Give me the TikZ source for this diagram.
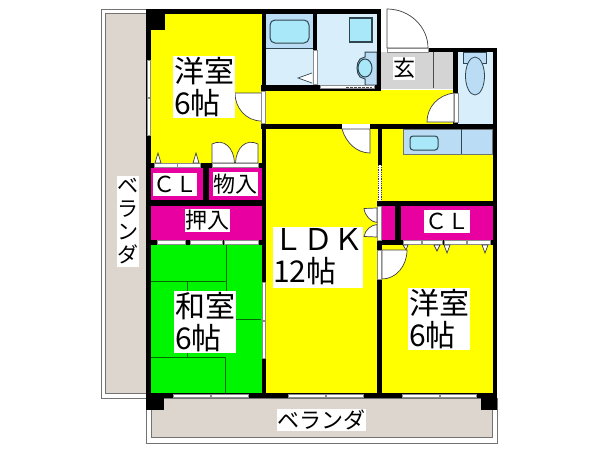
\documentclass[tikz,border=0pt]{standalone}
\usepackage{fontspec}
\usepackage{xcolor}
\setmainfont{Noto Sans CJK JP}
\usetikzlibrary{positioning}
\definecolor{roomyellow}{HTML}{FFFF00}
\definecolor{closetpink}{HTML}{E800A0}
\definecolor{tatamigreen}{HTML}{00F500}
\definecolor{tatamiline}{HTML}{006A00}
\definecolor{balconybeige}{HTML}{DDD6CE}
\definecolor{entrygray}{HTML}{D4D4D4}
\definecolor{waterpale}{HTML}{D9EEFB}
\definecolor{watermid}{HTML}{BBDCF5}
\definecolor{watercyan}{HTML}{A8E8F8}
\definecolor{fixtureline}{HTML}{2F4650}
\tikzset{
    wall/.style={fill=black,draw=none},
    fixture/.style={draw=fixtureline,line width=1pt},
    doorleaf/.style={fill=white,draw=black!75,line width=0.7pt},
    sash/.style={fill=white,draw=black!45,line width=0.5pt},
    roomlabel/.style={fill=white,inner sep=0pt,align=left,font=\fontsize{30}{32}\selectfont,text=black},
    smalllabel/.style={fill=white,inner sep=0pt,font=\fontsize{22}{24}\selectfont,text=black}
}
\begin{document}
\begin{tikzpicture}[x=1pt,y=-1pt]
    \useasboundingbox (0,0) rectangle (600,450);
    \fill[white] (0,0) rectangle (600,450);

    % Balconies
    \draw[black!55,line width=0.8pt] (101,9) rectangle (146,398);
    \draw[black!55,fill=balconybeige,line width=0.8pt] (105.5,13) rectangle (146,393.5);
    \draw[black!55,line width=0.8pt] (146,398) -- (146,443) -- (497,443) -- (497,398);
    \draw[black!55,fill=balconybeige,line width=0.8pt] (151,398) -- (151,437.5) -- (492,437.5) -- (492,398) -- cycle;

    % Rooms
    \fill[roomyellow] (151,14) rectangle (262,165);
    \fill[roomyellow] (266,90) rectangle (454,124);
    \fill[roomyellow] (266,128) rectangle (378,394);
    \fill[roomyellow] (381,128) rectangle (493,202);
    \fill[roomyellow] (381,244) rectangle (493,394);
    \fill[closetpink] (151,167) rectangle (262,240);
    \fill[closetpink] (382,205) rectangle (493,241);
    \fill[tatamigreen] (151,244) rectangle (262,394);
    \fill[waterpale] (266,14) rectangle (378,86);
    \fill[watermid] (266,14) rectangle (313,48);
    \fill[entrygray] (381,50) rectangle (454,89);
    \fill[waterpale] (458,50) rectangle (493,124);

    % Tatami joints
    \draw[tatamiline,line width=0.7pt] (226,245) -- (226,319) -- (261,319);
    \draw[tatamiline,line width=0.7pt] (151,281) -- (226,281);
    \draw[tatamiline,line width=0.7pt] (187,281) -- (187,357);
    \draw[tatamiline,line width=0.7pt] (151,357) -- (225,357) -- (225,393);

    % Bath and washroom
    \draw[fixture,fill=watercyan,rounded corners=5pt] (270,20) rectangle (309,43);
    \draw[fixture,line width=0.6pt] (266,48) -- (313,48);
    \draw[fixture,fill=watercyan,line width=1.2pt] (349.5,18) rectangle (372,42);
    \draw[fixture,fill=watermid] (377,52) -- (365,52) -- (365,57) -- (360,59) .. controls (356,63) and (356,73) .. (360,77) -- (365,79) -- (365,85) -- (377,85) -- cycle;
    \draw[fixture,fill=watercyan] (365,68) ellipse (7 and 9);

    % Toilet
    \draw[fixture,fill=watermid,line width=0.6pt] (463,52) rectangle (486,63);
    \draw[fixture,fill=watermid,line width=0.8pt] (475,76) ellipse (9.5 and 19);

    % Entry step
    \draw[black!70,line width=0.6pt] (433,52) -- (433,88);

    % Kitchen counter
    \draw[black!55,fill=watermid,line width=0.6pt] (403,129) rectangle (492,154);
    \draw[fixture,fill=watercyan,rounded corners=3pt] (410,136) rectangle (438,150);
    \draw[fixture,line width=0.6pt] (461,129) -- (461,154);

    % Outer walls
    \fill[wall] (146,9) rectangle (381,14);
    \fill[wall] (146,9) rectangle (151,398);
    \fill[wall] (146,9) rectangle (165,30);
    \fill[wall] (146,394) rectangle (164,410);
    \fill[wall] (146,393) rectangle (497,398);
    \fill[wall] (481,394) rectangle (497,410);
    \fill[wall] (492.5,48) rectangle (497,398);
    \fill[wall] (428,48) rectangle (497,52);

    % Inner walls
    \fill[wall] (261.5,9) rectangle (266,395);
    \fill[wall] (312.5,9) rectangle (317,90);
    \fill[wall] (377,9) rectangle (381,90);
    \fill[wall] (261,85) rectangle (381,90.5);
    \fill[wall] (453,48) rectangle (458,124);
    \fill[wall] (261,123.5) rectangle (497,129);
    \fill[wall] (377.5,129) rectangle (382,165);
    \fill[wall] (377,201) rectangle (497,206);
    \fill[wall] (377,206) rectangle (382,398);
    \fill[wall] (395,206) rectangle (401,245);
    \fill[wall] (377,240) rectangle (497,245);
    \fill[wall] (151,163) rectangle (262,168);
    \fill[wall] (203,168) rectangle (209,205);
    \fill[wall] (151,200) rectangle (262,206);
    \fill[wall] (151,239.5) rectangle (262,245);

    % Dotted line to the kitchen
    \draw[black!75,line width=0.8pt,densely dotted] (378,165) -- (378,201);
    \draw[black!75,line width=0.8pt,densely dotted] (381.5,165) -- (381.5,201);

    % Closet under the kitchen partition
    \fill[closetpink] (382,206) rectangle (395,239);
    \fill[closetpink] (401,206) rectangle (492.5,240);
    \fill[roomyellow] (382,245) rectangle (395,250);

    % Windows
    \draw[sash] (147,60) rectangle (150,97);
    \draw[sash] (147,98) rectangle (150,135);
    \draw[sash] (173,394.5) rectangle (210,397.5);
    \draw[sash] (211,394.5) rectangle (248,397.5);
    \draw[sash] (288,394.5) rectangle (325,397.5);
    \draw[sash] (326,394.5) rectangle (363,397.5);
    \draw[sash] (402,394.5) rectangle (439,397.5);
    \draw[sash] (440,394.5) rectangle (476,397.5);
    \draw[sash] (262,282) rectangle (265.5,320);
    \draw[sash] (262,321) rectangle (265.5,358);

    % Sliding doors
    \draw[sash] (154,163.5) rectangle (177,167);
    \draw[sash] (177,163.5) rectangle (200,167);
    \draw[sash] (157,240.5) rectangle (185,244);
    \draw[sash] (190,240.5) rectangle (222,244);
    \draw[sash] (224,240.5) rectangle (258,244);
    \draw[sash] (403,240.5) rectangle (421,244.5);
    \draw[sash] (422,240.5) rectangle (442,244.5);
    \draw[sash] (444,240.5) rectangle (466,244.5);
    \draw[sash] (467,240.5) rectangle (490,244.5);
    \draw[doorleaf] (155,163) -- (158,153) -- (161,163) -- cycle;
    \draw[doorleaf] (193,163) -- (196,153) -- (199,163) -- cycle;
    \draw[doorleaf] (403,245) -- (406,250) -- (408,245) -- cycle;
    \draw[doorleaf] (434,245) -- (437,251) -- (440,245) -- cycle;
    \draw[doorleaf] (444,245) -- (447,253) -- (450,245) -- cycle;
    \draw[doorleaf] (482,245) -- (485,253) -- (488,245) -- cycle;

    % Room door
    \draw[doorleaf] (261.5,93) -- (235,93) .. controls (235,108) and (246,121) .. (261.5,121) -- cycle;
    \draw[sash] (261.5,91) rectangle (265.5,123);

    % Entrance door
    \fill[white] (381,48) rectangle (428,52);
    \draw[doorleaf] (387,9) .. controls (410,9) and (428,27) .. (428,48) -- (387,48) -- cycle;
    \draw[sash] (387,48) rectangle (428,52);

    % Door at the toilet
    \draw[doorleaf] (454,93) .. controls (438,95) and (427,107) .. (427,122) -- (454,122) -- cycle;
    \draw[sash] (454,93) rectangle (458,122);

    % Door of the bath
    \draw[sash] (313,50) rectangle (317,84);
    \draw[fixture,fill=white,line width=0.7pt] (312,73) -- (298,78) -- (312,83);
    \draw[sash] (320,85.5) rectangle (374,88.5);
    \draw[black!70,line width=1pt,dash pattern=on 2.5pt off 1.5pt] (346,87) -- (372,87);

    % Door of the LDK
    \fill[white] (342,123.5) rectangle (370,129);
    \draw[doorleaf] (342,129) .. controls (346,143) and (357,153) .. (370,153) -- (370,129) -- cycle;

    % Folding doors
    \draw[doorleaf] (212,163) -- (212,144) .. controls (224,138) and (234,148) .. (234.5,163) -- cycle;
    \draw[doorleaf] (258,163) -- (258,144) .. controls (246,138) and (236,148) .. (235.5,163) -- cycle;
    \draw[sash] (212,163) rectangle (258,167);
    \draw[doorleaf] (377,208) -- (364,208.5) .. controls (365,216) and (371,222) .. (377,222.5) -- cycle;
    \draw[doorleaf] (377,237) -- (364,236.5) .. controls (365,230) and (371,225) .. (377,224.5) -- cycle;
    \draw[sash] (377.5,206) rectangle (381.5,240);

    % Door of the lower bedroom
    \draw[doorleaf] (382,250) -- (407,250) .. controls (407,266) and (396,279) .. (382,279) -- cycle;
    \draw[sash] (377.5,250) rectangle (381.5,279);

    % Room labels
    \fill[white] (173,56) rectangle (235,118);
    \fill[white] (174,291) rectangle (236,353);
    \fill[white] (408,288) rectangle (470,350);
    \fill[white] (273,227) rectangle (363,288);
    \fill[white] (153,173) rectangle (197,196);
    \fill[white] (213,172) rectangle (258,196);
    \fill[white] (185,209) rectangle (230,232);
    \fill[white] (424,210) rectangle (470,233);
    \fill[white] (393,57) rectangle (415,80);
    \fill[white] (117,176) rectangle (139,267);
    \fill[white] (277,409) rectangle (366,431);

    \node[roomlabel] (bedroomA) at (204,87) {洋室\\6帖};
    \node[roomlabel] (washitsu) at (205,322) {和室\\6帖};
    \node[roomlabel] (bedroomB) at (439,319) {洋室\\6帖};
    \node[roomlabel] (ldk) at (318,257) {ＬＤＫ\\12帖};
    \node[smalllabel] (clA) at (175,184.5) {ＣＬ};
    \node[smalllabel] (monoire) at (235.5,184) {物入};
    \node[smalllabel] (oshiire) at (207.5,220.5) {押入};
    \node[smalllabel] (clB) at (447,221.5) {ＣＬ};
    \node[smalllabel] (genkan) at (404,68.5) {玄};
    \node[smalllabel,align=center,font=\fontsize{21}{23}\selectfont] (balconyA) at (128,221.5) {ベ\\ラ\\ン\\ダ};
    \node[smalllabel] (balconyB) at (321.5,420) {ベランダ};
\end{tikzpicture}
\end{document}
